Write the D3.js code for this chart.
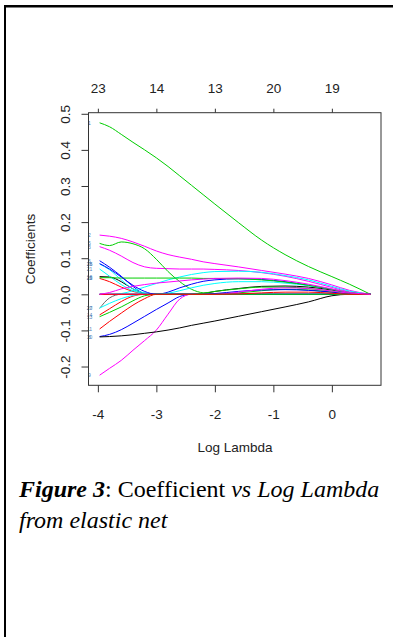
<!DOCTYPE html>
<html>
<head>
<meta charset="utf-8">
<script src="https://d3js.org/d3.v7.min.js"></script>
<style>
body { margin: 0; background: #fff; }
svg { display: block; }
.axis text { font-family: "Liberation Sans", Arial, sans-serif; font-size: 13.5px; fill: #222; }
.axis line { stroke: #333; }
</style>
</head>
<body>
<svg id="chart" width="393" height="637"></svg>
<script>
// log(lambda) grid shared by all coefficient paths
var logLambda = [-3.97, -3.8, -3.6, -3.4, -3.2, -3.0, -2.8, -2.6, -2.4, -2.2, -2.0, -1.6, -1.2, -0.8, -0.4, 0.0, 0.3, 0.66];

// coefficient paths
var v01 = [.475,.464,.443,.421,.400,.378,.354,.328,.302,.276,.250,.199,.150,.110,.077,.049,.028,0];
var v02 = [.164,.161,.155,.145,.133,.120,.110,.103,.097,.090,.085,.076,.066,.056,.044,.026,.011,0];
var v03 = [.132,.122,.106,.088,.076,.072,.071,.070,.070,.070,.069,.066,.060,.050,.036,.019,.007,0];
var v04 = [0,.005,.015,.022,.027,.031,.034,.037,.040,.042,.044,.045,.044,.038,.028,.015,.005,0];
var v05 = [.141,.135,.145,.140,.126,.097,.063,.035,.014,.004,.002,.004,.010,.014,.012,.006,.002,0];
var v06 = [.093,.075,.050,.022,.002,0,0,0,0,0,0,0,0,0,0,0,0,0];
var v07 = [0,0,0,0,0,0,.006,.018,.028,.036,.040,.043,.041,.035,.025,.013,.004,0];
var v08 = [-.117,-.111,-.098,-.080,-.061,-.042,-.024,-.006,0,0,0,0,0,0,0,0,0,0];
var v09 = [-.224,-.205,-.183,-.155,-.128,-.099,-.055,-.013,0,0,0,0,0,0,0,0,0,0];
var v10 = [-.118,-.117,-.115,-.112,-.108,-.104,-.099,-.093,-.086,-.080,-.074,-.061,-.048,-.035,-.021,-.004,0,0];
var v11 = [-.096,-.075,-.052,-.030,-.012,0,0,0,0,0,0,0,0,0,0,0,0,0];
var v12 = [0,0,0,0,0,0,0,0,0,0,0,.001,.004,.006,.006,.003,0,0];
var v13 = [-.062,-.050,-.035,-.018,-.004,0,0,0,0,0,0,0,0,0,0,0,0,0];
var v14 = [-.057,-.040,-.020,-.005,0,0,0,0,0,0,0,0,0,0,0,0,0,0];
var v15 = [.044,.035,.020,.008,.002,0,0,0,0,0,0,0,0,0,0,0,0,0];
var v16 = [.049,.048,.035,.015,.003,0,0,0,0,.002,.008,.016,.022,.023,.020,.012,.004,0];
var v17 = [-.039,-.010,0,0,0,0,0,0,0,0,0,0,0,0,0,0,0,0];
var v18 = [.084,.068,.040,.015,.004,0,0,0,0,0,0,0,0,0,0,0,0,0];
var v19 = [0,0,.002,.010,.020,.030,.040,.048,.055,.060,.063,.064,.061,.052,.040,.022,.009,0];
var v20 = [-.038,-.025,-.012,-.003,0,0,0,0,0,0,0,0,0,0,0,0,0,0];
var v21 = [.070,.050,.027,.010,.002,0,.003,.010,.018,.025,.030,.035,.035,.031,.024,.014,.005,0];
var v22 = [.046,.046,.045,.045,.045,.045,.045,.045,.045,.044,.044,.043,.040,.034,.025,.014,.005,0];
var v23 = [0,0,0,0,0,0,0,0,0,0,.002,.008,.012,.013,.011,.006,.002,0];
var v24 = [0,0,0,0,0,0,0,0,0,.003,.008,.015,.020,.020,.016,.009,.003,0];
var v25 = [0,0,0,0,0,0,0,0,0,0,0,.006,.014,.018,.016,.009,.003,0];
var v26 = [.085,.070,.048,.025,.008,0,0,0,0,0,0,0,0,0,0,0,0,0];

// drawing order (last drawn sits on top along the zero line) and colours
var paths  = [v01, v02, v03, v05, v06, v07, v08, v09, v10, v11, v14, v15, v16, v17, v18, v19, v20, v21, v22, v23, v24, v25, v26, v13, v12, v04];
var names  = [1, 2, 3, 5, 6, 7, 8, 9, 10, 11, 14, 15, 16, 17, 18, 19, 20, 21, 22, 23, 24, 25, 26, 13, 12, 4];
var colors = ["#00CD00","#FF00FF","#FF00FF","#00CD00","#0000FF","#0000FF","#0000FF","#FF00FF","#000000","#FF0000",
              "#FF0000","#FF0000","#000000","#666666","#00FFFF","#00FFFF","#00FFFF","#00FFFF","#00CD00","#0000FF",
              "#00CD00","#FF00FF","#0000FF","#00CD00","#FF0000","#FF00FF"];

// axis ticks
var xTicks = [-4, -3, -2, -1, 0];
var dfLabels = ["23", "14", "13", "20", "19"];
var yTicks = [-0.2, -0.1, 0.0, 0.1, 0.2, 0.3, 0.4, 0.5];

var svg = d3.select("#chart");

// page frame (table cell border)
svg.append("line").attr("x1", 4).attr("x2", 393).attr("y1", 6.2).attr("y2", 6.2)
  .attr("stroke", "#000").attr("stroke-width", 2.5);
svg.append("line").attr("x1", 5).attr("x2", 5).attr("y1", 5).attr("y2", 637)
  .attr("stroke", "#000").attr("stroke-width", 2);

var plotLeft = 88.5, plotRight = 381, plotTop = 112.7, plotBottom = 385.3;

var x = d3.scaleLinear().domain([-4.16, 0.84]).range([plotLeft, plotRight]);
var y = d3.scaleLinear().domain([-0.252, 0.503]).range([plotBottom, plotTop]);

// coefficient paths
var line = d3.line()
  .x(function(d, i) { return x(logLambda[i]); })
  .y(function(d) { return y(d); })
  .curve(d3.curveMonotoneX);

svg.append("g")
  .selectAll("path")
  .data(paths)
  .enter()
  .append("path")
    .attr("d", line)
    .attr("fill", "none")
    .attr("stroke", function(d, i) { return colors[i]; })
    .attr("stroke-width", 1);

// variable labels at the left edge
svg.append("g")
  .selectAll("text")
  .data(paths.filter(function(d) { return d[0] != 0; }))
  .enter()
  .append("text")
    .attr("x", plotLeft + 1)
    .attr("y", function(d) { return y(d[0]) + 2; })
    .attr("text-anchor", "middle")
    .style("font-family", "Liberation Sans, Arial, sans-serif")
    .style("font-size", "5px")
    .style("fill", "#4f7fb5")
    .text(function(d) { return names[paths.indexOf(d)]; });

// box
svg.append("rect")
  .attr("x", plotLeft).attr("y", plotTop)
  .attr("width", plotRight - plotLeft).attr("height", plotBottom - plotTop)
  .attr("fill", "none").attr("stroke", "#333").attr("stroke-width", 1);

var plain = function(d) { return String(d); };

// bottom axis
var xAxis = svg.append("g").attr("class", "axis")
  .attr("transform", "translate(0," + plotBottom + ")")
  .call(d3.axisBottom(x).tickValues(xTicks).tickSize(7).tickPadding(17).tickFormat(plain));
xAxis.select(".domain").remove();

// top axis: number of non-zero coefficients
var topAxis = svg.append("g").attr("class", "axis")
  .attr("transform", "translate(0," + plotTop + ")")
  .call(d3.axisTop(x).tickValues(xTicks).tickSize(4).tickPadding(16)
    .tickFormat(function(d, i) { return dfLabels[i]; }));
topAxis.select(".domain").remove();

// left axis, labels rotated like R
var yAxis = svg.append("g").attr("class", "axis")
  .attr("transform", "translate(" + plotLeft + ",0)")
  .call(d3.axisLeft(y).tickValues(yTicks).tickSize(7)
    .tickFormat(function(d) { return d.toFixed(1); }));
yAxis.select(".domain").remove();
yAxis.selectAll("text")
  .attr("transform", "rotate(-90)")
  .attr("x", 0)
  .attr("y", -18.5)
  .attr("dy", 0)
  .attr("text-anchor", "middle");

// axis titles
svg.append("text")
  .attr("x", 235).attr("y", 451.5)
  .attr("text-anchor", "middle")
  .style("font-family", "Liberation Sans, Arial, sans-serif")
  .style("font-size", "13.5px").style("fill", "#222")
  .text("Log Lambda");

svg.append("text")
  .attr("transform", "translate(35," + (plotTop + plotBottom) / 2 + ") rotate(-90)")
  .attr("text-anchor", "middle")
  .style("font-family", "Liberation Sans, Arial, sans-serif")
  .style("font-size", "13.5px").style("fill", "#222")
  .text("Coefficients");

// caption
var serif = "'Liberation Serif', 'Times New Roman', serif";
var cap = svg.append("text").attr("x", 19).attr("y", 497)
  .style("font-family", serif).style("font-size", "24px").style("fill", "#000");
cap.append("tspan").style("font-family", serif).style("font-weight", "bold").style("font-style", "italic").text("Figure 3");
cap.append("tspan").style("font-family", serif).style("font-style", "normal").text(": Coefficient ");
cap.append("tspan").style("font-family", serif).style("font-style", "italic").text("vs Log Lambda");

svg.append("text").attr("x", 19).attr("y", 528)
  .style("font-family", serif).style("font-size", "24px").style("fill", "#000")
  .style("font-style", "italic")
  .text("from elastic net");
</script>
</body>
</html>
